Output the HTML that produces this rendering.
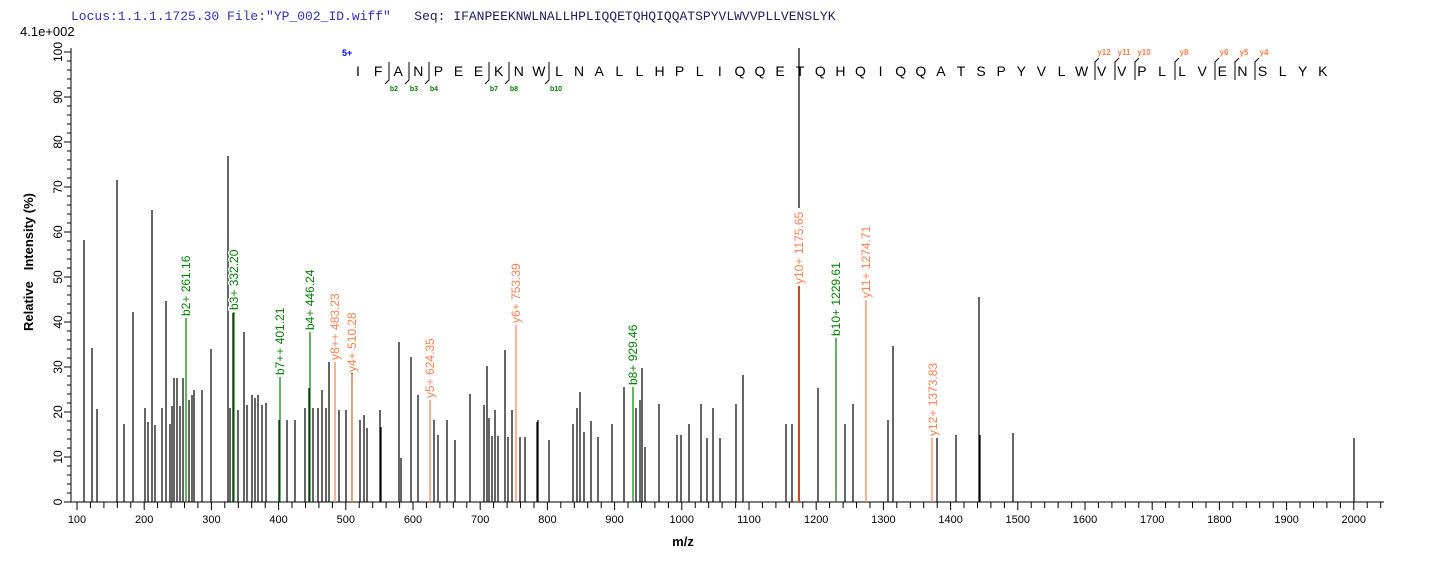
<!DOCTYPE html>
<html><head><meta charset="utf-8"><style>
html,body{margin:0;padding:0;background:#fff}
svg{display:block;font-family:"Liberation Sans",Arial,sans-serif}
.lb text{paint-order:stroke;stroke:#fff;stroke-width:3px}
</style></head><body>
<svg width="1436" height="562" viewBox="0 0 1436 562" xmlns="http://www.w3.org/2000/svg">
<text x="71" y="20" font-family="Liberation Mono,monospace" font-size="13" fill="#3030c0" xml:space="preserve">Locus:1.1.1.1725.30 File:"YP_002_ID.wiff"   <tspan fill="#202060">Seq: IFANPEEKNWLNALLHPLIQQETQHQIQQATSPYVLWVVPLLVENSLYK</tspan></text>
<text x="20" y="36" font-size="13" fill="#000">4.1e+002</text>
<path d="M71 48V502H1384" stroke="#000" stroke-width="1" fill="none"/>
<path stroke="#000" stroke-width="1" d="M64 502H71M64 457H71M64 412H71M64 367H71M64 322H71M64 277H71M64 232H71M64 187H71M64 142H71M64 97H71M64 52H71
M67 493H71M67 484H71M67 475H71M67 466H71M67 448H71M67 439H71M67 430H71M67 421H71M67 403H71M67 394H71M67 385H71M67 376H71M67 358H71M67 349H71M67 340H71M67 331H71M67 313H71M67 304H71M67 295H71M67 286H71M67 268H71M67 259H71M67 250H71M67 241H71M67 223H71M67 214H71M67 205H71M67 196H71M67 178H71M67 169H71M67 160H71M67 151H71M67 133H71M67 124H71M67 115H71M67 106H71M67 88H71M67 79H71M67 70H71M67 61H71"/>
<g font-size="12" fill="#000" text-anchor="middle">
<text transform="translate(62,502) rotate(-90)">0</text>
<text transform="translate(62,457) rotate(-90)">10</text>
<text transform="translate(62,412) rotate(-90)">20</text>
<text transform="translate(62,367) rotate(-90)">30</text>
<text transform="translate(62,322) rotate(-90)">40</text>
<text transform="translate(62,277) rotate(-90)">50</text>
<text transform="translate(62,232) rotate(-90)">60</text>
<text transform="translate(62,187) rotate(-90)">70</text>
<text transform="translate(62,142) rotate(-90)">80</text>
<text transform="translate(62,97) rotate(-90)">90</text>
<text transform="translate(62,52) rotate(-90)">100</text>
</g>
<text transform="translate(33,262) rotate(-90)" font-size="13" font-weight="bold" text-anchor="middle" xml:space="preserve">Relative   Intensity (%)</text>
<path stroke="#000" stroke-width="1" d="M77 502V510M144.2 502V510M211.4 502V510M278.6 502V510M345.8 502V510M413 502V510M480.2 502V510M547.4 502V510M614.6 502V510M681.8 502V510M749 502V510M816.2 502V510M883.4 502V510M950.6 502V510M1017.8 502V510M1085 502V510M1152.2 502V510M1219.4 502V510M1286.6 502V510M1353.8 502V510
M90.4 502V508M103.9 502V508M117.3 502V508M130.8 502V508M157.6 502V508M171.1 502V508M184.5 502V508M197.9 502V508M224.8 502V508M238.3 502V508M251.7 502V508M265.2 502V508M292 502V508M305.5 502V508M318.9 502V508M332.4 502V508M359.2 502V508M372.7 502V508M386.1 502V508M399.6 502V508M426.4 502V508M439.9 502V508M453.3 502V508M466.8 502V508M493.6 502V508M507.1 502V508M520.5 502V508M534 502V508M560.8 502V508M574.3 502V508M587.7 502V508M601.2 502V508M628 502V508M641.5 502V508M654.9 502V508M668.4 502V508M695.2 502V508M708.7 502V508M722.1 502V508M735.6 502V508M762.4 502V508M775.9 502V508M789.3 502V508M802.8 502V508M829.6 502V508M843.1 502V508M856.5 502V508M870 502V508M896.8 502V508M910.3 502V508M923.7 502V508M937.2 502V508M964 502V508M977.5 502V508M990.9 502V508M1004.4 502V508M1031.2 502V508M1044.7 502V508M1058.1 502V508M1071.6 502V508M1098.4 502V508M1111.9 502V508M1125.3 502V508M1138.8 502V508M1165.6 502V508M1179.1 502V508M1192.5 502V508M1206 502V508M1232.8 502V508M1246.3 502V508M1259.7 502V508M1273.2 502V508M1300 502V508M1313.5 502V508M1326.9 502V508M1340.4 502V508M1367.2 502V508M1380.7 502V508"/>
<g font-size="11" fill="#000" text-anchor="middle">
<text x="77" y="523">100</text><text x="144.2" y="523">200</text><text x="211.4" y="523">300</text><text x="278.6" y="523">400</text><text x="345.8" y="523">500</text><text x="413" y="523">600</text><text x="480.2" y="523">700</text><text x="547.4" y="523">800</text><text x="614.6" y="523">900</text><text x="681.8" y="523">1000</text><text x="749" y="523">1100</text><text x="816.2" y="523">1200</text><text x="883.4" y="523">1300</text><text x="950.6" y="523">1400</text><text x="1017.8" y="523">1500</text><text x="1085" y="523">1600</text><text x="1152.2" y="523">1700</text><text x="1219.4" y="523">1800</text><text x="1286.6" y="523">1900</text><text x="1353.8" y="523">2000</text>
</g>
<text x="683" y="546" font-size="13" font-weight="bold" text-anchor="middle">m/z</text>
<path stroke="#000" stroke-width="1.2" fill="none" d="M84 502V240M92 502V348M97 502V409M117 502V180M124 502V424M133 502V312M145 502V408M148 502V422M152 502V210M155 502V425M162 502V408M166 502V301M170 502V424M172 502V406M174 502V378M177 502V378M180 502V406M183 502V378M189 502V400M192 502V395M194 502V390M202 502V390M211 502V349M228 502V156M230 502V408M233 502V313M238 502V410M244 502V332M247 502V405M252 502V395M255 502V398M258 502V395M262 502V405M266 502V403M279 502V420M287 502V420M295 502V420M305 502V408M309 502V388M313 502V408M318 502V408M322 502V390M326 502V408M329 502V362M339 502V410M346 502V410M352 502V373M360 502V420M364 502V415M367 502V428M380 502V410M381 502V427M399 502V342M401 502V458M411 502V357M418 502V395M434 502V420M438 502V435M447 502V420M455 502V440M470 502V394M484 502V405M487 502V366M489 502V418M492 502V436M495 502V410M498 502V436M505 502V350M508 502V437M512 502V410M520 502V437M525 502V437M537 502V422M538 502V420M549 502V440M573 502V424M577 502V408M580 502V392M584 502V432M591 502V421M598 502V437M612 502V424M624 502V387M636 502V408M640 502V400M642 502V368M645 502V447M659 502V404M677 502V435M681 502V435M689 502V424M701 502V404M707 502V438M713 502V408M720 502V438M736 502V404M743 502V375M786 502V424M792 502V424M799 208V48M818 502V388M845 502V424M853 502V404M888 502V420M893 502V346M937 502V438M956 502V435M979 502V297M980 502V435M1013 502V433M1354 502V438"/>
<path stroke="#008000" stroke-width="1.2" fill="none" d="M186 502V318M234 502V312M280 502V377M310 502V332M633 502V387M836 502V338"/>
<path stroke="#ff7f50" stroke-width="1.2" fill="none" d="M335 502V362M352 502V374M430 502V400M516 502V325M866 502V300M932 502V438"/>
<path stroke="#e04010" stroke-width="2" fill="none" d="M799 502V286"/>
<g class="lb" font-size="12" fill="#008000">
<text transform="translate(190,316) rotate(-90)">b2+ 261.16</text>
<text transform="translate(238,310) rotate(-90)">b3+ 332.20</text>
<text transform="translate(284,375) rotate(-90)">b7++ 401.21</text>
<text transform="translate(314,330) rotate(-90)">b4+ 446.24</text>
<text transform="translate(637,385) rotate(-90)">b8+ 929.46</text>
<text transform="translate(840,336) rotate(-90)">b10+ 1229.61</text>
</g>
<g class="lb" font-size="12" fill="#ff7f50">
<text transform="translate(339,360) rotate(-90)">y8++ 483.23</text>
<text transform="translate(356,372) rotate(-90)">y4+ 510.28</text>
<text transform="translate(434,398) rotate(-90)">y5+ 624.35</text>
<text transform="translate(520,323) rotate(-90)">y6+ 753.39</text>
<text transform="translate(803,284) rotate(-90)">y10+ 1175.65</text>
<text transform="translate(870,298) rotate(-90)">y11+ 1274.71</text>
<text transform="translate(937,436) rotate(-90)">y12+ 1373.83</text>
</g>
<text x="342" y="56" font-size="9" font-weight="bold" fill="#0000ff">5+</text>
<g font-size="14" fill="#000" text-anchor="middle">
<text x="358" y="76">I</text><text x="378.1" y="76">F</text><text x="398.2" y="76">A</text><text x="418.3" y="76">N</text><text x="438.4" y="76">P</text><text x="458.5" y="76">E</text><text x="478.6" y="76">E</text><text x="498.7" y="76">K</text><text x="518.8" y="76">N</text><text x="538.9" y="76">W</text><text x="559" y="76">L</text><text x="579.1" y="76">N</text><text x="599.2" y="76">A</text><text x="619.3" y="76">L</text><text x="639.4" y="76">L</text><text x="659.5" y="76">H</text><text x="679.6" y="76">P</text><text x="699.7" y="76">L</text><text x="719.8" y="76">I</text><text x="739.9" y="76">Q</text><text x="760" y="76">Q</text><text x="780.1" y="76">E</text><text x="800.2" y="76">T</text><text x="820.3" y="76">Q</text><text x="840.4" y="76">H</text><text x="860.5" y="76">Q</text><text x="880.6" y="76">I</text><text x="900.7" y="76">Q</text><text x="920.8" y="76">Q</text><text x="940.9" y="76">A</text><text x="961" y="76">T</text><text x="981.1" y="76">S</text><text x="1001.2" y="76">P</text><text x="1021.3" y="76">Y</text><text x="1041.4" y="76">V</text><text x="1061.5" y="76">L</text><text x="1081.6" y="76">W</text><text x="1101.7" y="76">V</text><text x="1121.8" y="76">V</text><text x="1141.9" y="76">P</text><text x="1162" y="76">L</text><text x="1182.1" y="76">L</text><text x="1202.2" y="76">V</text><text x="1222.3" y="76">E</text><text x="1242.4" y="76">N</text><text x="1262.5" y="76">S</text><text x="1282.6" y="76">L</text><text x="1302.7" y="76">Y</text><text x="1322.8" y="76">K</text>
</g>
<path stroke="#000" stroke-width="1" fill="none" d="M389 62V80L385 84M409 62V80L405 84M429 62V80L425 84M489 62V80L485 84M509 62V80L505 84M549 62V80L545 84"/>
<g font-size="7" font-weight="bold" fill="#008000" text-anchor="middle">
<text x="394" y="91">b2</text><text x="414" y="91">b3</text><text x="434" y="91">b4</text><text x="494" y="91">b7</text><text x="514" y="91">b8</text><text x="556" y="91">b10</text>
</g>
<path stroke="#000" stroke-width="1" fill="none" d="M1095 80V62L1099 58M1115 80V62L1119 58M1135 80V62L1139 58M1175 80V62L1179 58M1215 80V62L1219 58M1235 80V62L1239 58M1255 80V62L1259 58"/>
<g font-size="8" font-weight="bold" fill="#ff7f50" text-anchor="middle">
<text x="1104" y="55">y12</text><text x="1124" y="55">y11</text><text x="1144" y="55">y10</text><text x="1184" y="55">y8</text><text x="1224" y="55">y6</text><text x="1244" y="55">y5</text><text x="1264" y="55">y4</text>
</g>
</svg>
</body></html>
